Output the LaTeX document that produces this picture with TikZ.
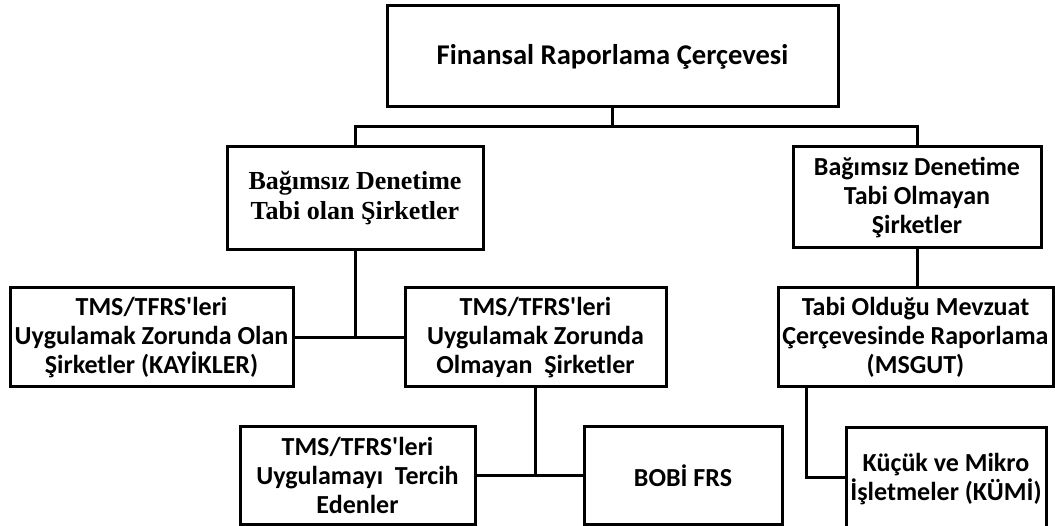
\documentclass[tikz,border=0pt]{standalone}
\usepackage{fontspec}
\setmainfont{Carlito}[Ligatures=TeXOff]
\newfontfamily\timesb{Liberation Serif}
\begin{document}
\begin{tikzpicture}[x=1pt,y=-1pt,
  box/.style={draw=black, line width=3pt, fill=white, inner sep=0pt, align=center,
    font=\bfseries\fontsize{26}{29}\selectfont},
  conn/.style={draw=black, line width=3pt}]
\useasboundingbox[fill=white] (0,0) rectangle (1055,526);
% boxes
\node[box, minimum width=451, minimum height=101, font=\bfseries\fontsize{28.6}{32}\selectfont]
  (top) at (612.5,56.5) {Finansal Raporlama Çerçevesi};
\node[box, minimum width=256, minimum height=103, font=\timesb\bfseries\fontsize{26}{30}\selectfont]
  (B1) at (355,198.5) {Bağımsız Denetime\\Tabi olan Şirketler};
\node[box, minimum width=248, minimum height=101] (B2) at (917,197.5)
  {Bağımsız Denetime\\Tabi Olmayan\\Şirketler};
\node[box, minimum width=283, minimum height=99] (C1) at (151.5,337.5)
  {TMS/TFRS'leri\\Uygulamak Zorunda Olan\\Şirketler (KAYİKLER)};
\node[box, minimum width=261, minimum height=99] (C2) at (535.5,337.5)
  {TMS/TFRS'leri\\Uygulamak Zorunda\\Olmayan\ \ Şirketler};
\node[box, minimum width=275, minimum height=99] (C3) at (915.5,337.5)
  {Tabi Olduğu Mevzuat\\Çerçevesinde Raporlama\\(MSGUT)};
\node[box, minimum width=235, minimum height=97] (D1) at (357.5,475.5)
  {TMS/TFRS'leri\\Uygulamayı\ \ Tercih\\Edenler};
\node[box, minimum width=198, minimum height=97] (D2) at (683,475.5) {BOBİ FRS};
\node[box, minimum width=200, minimum height=102] (D3) at (946,479)
  {Küçük ve Mikro\\İşletmeler (KÜMİ)};
% connectors
\coordinate (busL) at (355,127);
\coordinate (busR) at (917,127);
\draw[conn] (top.south) -- (top.south |- busL);
\draw[conn] (B1.north) -- (busL) -- (busR) -- (B2.north);
\draw[conn] (B1.south) -- (B1.south |- C1.east);
\draw[conn] (C1.east) -- (C2.west);
\draw[conn] (B2.south) -- (B2.south |- C3.north);
\draw[conn] (C2.south) -- (C2.south |- D1.east);
\draw[conn] (D1.east) -- (D2.west);
\coordinate (k) at (806,477);
\draw[conn] (C3.south -| k) -- (k) -- (k -| D3.west);
\end{tikzpicture}
\end{document}
